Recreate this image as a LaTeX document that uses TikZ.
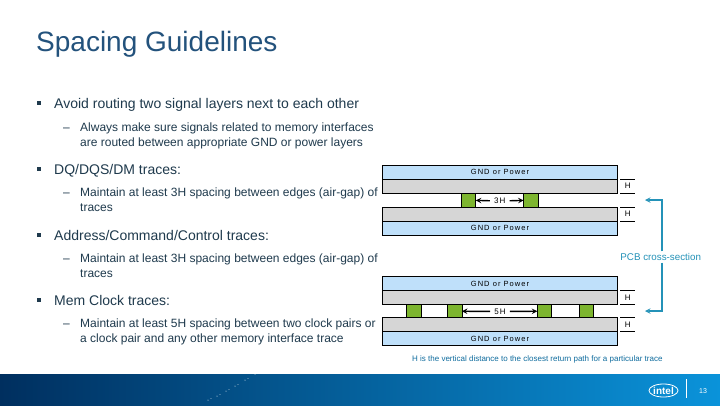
\documentclass[tikz,border=0pt]{standalone}
\usepackage{fontspec}
\setmainfont{Liberation Sans}
\newfontfamily\spacedfont[LetterSpace=14]{Liberation Sans}
\usetikzlibrary{shapes.geometric, arrows, positioning}
\definecolor{titleblue}{HTML}{23527C}
\definecolor{bodyink}{HTML}{1F3A4D}
\definecolor{bandblue}{HTML}{BFE0FA}
\definecolor{bandgray}{HTML}{D6D6D6}
\definecolor{tracegreen}{HTML}{7DB52F}
\definecolor{noteteal}{HTML}{2492B8}
\definecolor{captionblue}{HTML}{0F6C9E}
\definecolor{footleft}{HTML}{002F5F}
\definecolor{footright}{HTML}{0A93DA}
\tikzstyle{title} = [anchor=base west, inner sep=0, text=titleblue, font=\fontsize{28}{30}\selectfont]
\tikzstyle{level1} = [anchor=base west, inner sep=0, text=bodyink, font=\fontsize{14}{15}\selectfont]
\tikzstyle{level2} = [anchor=base west, inner sep=0, text=bodyink, align=left, font=\fontsize{12}{15}\selectfont]
\tikzstyle{bullet} = [rectangle, minimum size=4pt, inner sep=0, fill=bodyink]
\tikzstyle{band} = [rectangle, minimum width=235.4pt, minimum height=14pt, inner sep=0, outer sep=0, draw=black, line width=0.7pt, fill=bandblue, font=\spacedfont\fontsize{7.5}{8}\selectfont]
\tikzstyle{plane} = [band, fill=bandgray]
\tikzstyle{trace} = [rectangle, minimum width=14.4pt, inner sep=0, outer sep=0, draw=black, line width=0.7pt, fill=tracegreen]
\tikzstyle{dimlabel} = [inner sep=1pt, font=\spacedfont\fontsize{8}{8}\selectfont]
\tikzstyle{gaplabel} = [dimlabel, inner xsep=4pt]
\tikzstyle{arrow} = [line width=1.4pt,->,>=stealth]
\tikzstyle{tick} = [line width=0.6pt]
\tikzstyle{callout} = [line width=1.4pt, noteteal, ->, >=stealth]
\begin{document}
\begin{tikzpicture}[x=1pt, y=-1pt, node distance=14pt]
	\useasboundingbox (0,0) rectangle (720,405);
	\fill [white] (0,0) rectangle (720,405);
	\fill [left color=footleft, right color=footright] (0,374) rectangle (720,405);

	\node (heading) [title] at (36,51) {Spacing Guidelines};

	% left column
	\node (bula) [bullet] at (39,103) {};
	\node (avoid) [level1] at (54,108) {Avoid routing two signal layers next to each other};
	\node (dasha) [level2] at (63,131) {--};
	\node (always) [level2] at (80,146) {Always make sure signals related to memory interfaces\\are routed between appropriate GND or power layers};
	\node (bulb) [bullet] at (39,169) {};
	\node (dq) [level1] at (54,174) {DQ/DQS/DM traces:};
	\node (dashb) [level2] at (63,196) {--};
	\node (dqgap) [level2] at (80,211) {Maintain at least 3H spacing between edges (air-gap) of\\traces};
	\node (bulc) [bullet] at (39,235) {};
	\node (addr) [level1] at (54,240) {Address/Command/Control traces:};
	\node (dashc) [level2] at (63,262) {--};
	\node (addrgap) [level2] at (80,277) {Maintain at least 3H spacing between edges (air-gap) of\\traces};
	\node (buld) [bullet] at (39,300) {};
	\node (clock) [level1] at (54,305) {Mem Clock traces:};
	\node (dashd) [level2] at (63,327) {--};
	\node (clockgap) [level2] at (80,342) {Maintain at least 5H spacing between two clock pairs or\\a clock pair and any other memory interface trace};

	% upper cross-section
	\node (gnda) [band] at (500,172.2) {GND or Power};
	\node (planea) [plane, below=0pt of gnda] {};
	\node (planeb) [plane, below=of planea] {};
	\node (gndb) [band, below=0pt of planeb] {GND or Power};
	\node (tracea) [trace, minimum height=14pt] at (468.6,200.2) {};
	\node (traceb) [trace, minimum height=14pt] at (530.8,200.2) {};
	\node (three) [gaplabel] at (499.7,201) {3H};
	\draw [arrow] (three) -- (tracea);
	\draw [arrow] (three) -- (traceb);

	% lower cross-section
	\node (gndc) [band] at (500,283.7) {GND or Power};
	\node (planec) [plane, below=0pt of gndc] {};
	\node (planed) [plane, below=13pt of planec] {};
	\node (gndd) [band, below=0pt of planed] {GND or Power};
	\node (tracec) [trace, minimum height=13pt] at (413.7,311.2) {};
	\node (traced) [trace, minimum height=13pt] at (454.7,311.2) {};
	\node (tracee) [trace, minimum height=13pt] at (544.5,311.2) {};
	\node (tracef) [trace, minimum height=13pt] at (586.5,311.2) {};
	\node (five) [gaplabel] at (500,311.5) {5H};
	\draw [arrow] (five) -- (traced);
	\draw [arrow] (five) -- (tracee);

	% heights at the right
	\foreach \pl/\hname in {planea/ha, planeb/hb, planec/hc, planed/hd} {
		\draw [tick] ([xshift=2.5pt]\pl.north east) -- ++(15,0);
		\draw [tick] ([xshift=2.5pt]\pl.south east) -- ++(15,0);
		\node (\hname) [dimlabel, right=6pt of \pl.east] {H};
	}

	% callout
	\node (pcb) [anchor=base east, inner sep=0, outer sep=2pt, text=noteteal, font=\fontsize{9.8}{10}\selectfont] at (703,260.5) {PCB cross-section};
	\coordinate (ua) at (645,200);
	\coordinate (ub) at (645,311);
	\draw [callout] (pcb.north -| 662,0) |- (ua);
	\draw [callout] (pcb.south -| 662,0) |- (ub);

	\node (note) [anchor=base west, inner sep=0, text=captionblue, font=\fontsize{8}{8}\selectfont] at (412,361.5) {H is the vertical distance to the closest return path for a particular trace};

	% footer
	\foreach \dx/\dy in {208/400, 217/396, 226/391, 235/386, 245/380, 255/374} {
		\fill [white] (\dx,\dy) circle (0.5);
		\fill [white] (\dx+3,\dy-1.5) circle (0.4);
	}
	\node (logo) [ellipse, draw=white, line width=0.8pt, minimum width=29pt, minimum height=13pt, inner sep=0, text=white, font=\bfseries\fontsize{10}{10}\selectfont] at (663.5,390.5) {intel};
	\coordinate (sepa) at (686.7,379);
	\coordinate (sepb) at (686.7,398);
	\draw [white, line width=0.6pt] (sepa) -- (sepb);
	\node (pageno) [text=white, inner sep=0, font=\fontsize{7}{8}\selectfont] at (703,391.5) {13};
\end{tikzpicture}
\end{document}
